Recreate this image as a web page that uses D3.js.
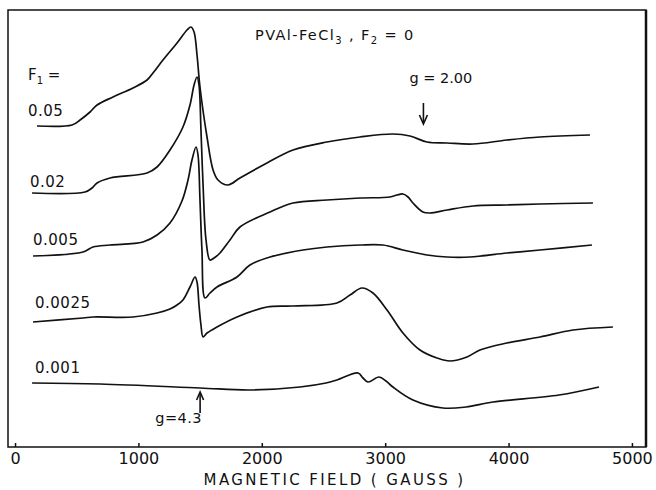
<!DOCTYPE html>
<html>
<head>
<meta charset="utf-8">
<script src="https://cdn.jsdelivr.net/npm/d3@7/dist/d3.min.js"></script>
<style>
body { margin: 0; background: #fff; }
text { font-family: "DejaVu Sans", sans-serif; fill: #111; }
</style>
</head>
<body>
<div id="chart"></div>
<script>
// F1 value of each trace, top to bottom
let f1Labels = ["0.05", "0.02", "0.005", "0.0025", "0.001"];

// [field (gauss), signal (arb. units)]
let trace005 = [[178, 32.1], [462, 32.2], [527, 32.7], [608, 33.5], [665, 34.2], [794, 35.0], [956, 35.9],
    [1070, 36.7], [1118, 37.4], [1199, 38.7], [1313, 40.4], [1394, 41.7], [1426, 42.0], [1451, 41.5],
    [1475, 39.2], [1499, 36.0], [1556, 31.0], [1605, 27.7], [1645, 26.7], [1726, 26.2], [1823, 26.9],
    [2042, 28.4], [2253, 29.7], [2528, 30.5], [2796, 31.0], [3063, 31.3], [3201, 31.1], [3339, 30.5],
    [3501, 30.4], [3712, 30.3], [3987, 30.7], [4255, 31.0], [4660, 31.2]];
let trace002 = [[138, 25.4], [567, 25.5], [624, 25.9], [665, 26.4], [770, 26.9], [1070, 27.4], [1151, 28.0],
    [1256, 29.7], [1361, 32.0], [1418, 34.2], [1451, 36.2], [1475, 37.0], [1491, 36.2], [1507, 31.7],
    [1524, 26.2], [1548, 20.7], [1580, 18.7], [1613, 18.9], [1661, 19.4], [1742, 20.7], [1823, 22.0],
    [2067, 23.5], [2253, 24.4], [2528, 24.7], [2796, 24.9], [3039, 25.0], [3096, 25.2], [3144, 25.3],
    [3185, 25.0], [3225, 24.4], [3306, 23.5], [3363, 23.4], [3501, 23.7], [3712, 24.1], [3987, 24.2],
    [4255, 24.3], [4684, 24.4]];
let trace0005 = [[146, 19.1], [551, 19.5], [632, 20.0], [770, 20.2], [1037, 20.5], [1151, 21.2], [1256, 22.4],
    [1353, 24.6], [1402, 26.7], [1434, 28.7], [1467, 30.0], [1483, 29.2], [1499, 24.7], [1515, 19.7],
    [1540, 14.9], [1580, 15.4], [1637, 16.0], [1799, 17.0], [1904, 18.2], [2067, 19.0], [2334, 19.7],
    [2528, 20.0], [2796, 20.2], [2982, 20.2], [3144, 19.7], [3339, 19.2], [3501, 19.0], [3687, 19.0],
    [3987, 19.4], [4255, 19.7], [4676, 20.2]];
let trace00025 = [[146, 12.5], [551, 12.9], [632, 13.0], [956, 13.0], [1151, 13.4], [1256, 13.8], [1313, 14.2],
    [1361, 14.7], [1418, 16.0], [1459, 17.0], [1475, 16.5], [1491, 14.2], [1507, 12.2], [1524, 11.0],
    [1556, 11.4], [1637, 12.0], [1799, 13.0], [2042, 14.0], [2253, 14.1], [2609, 14.4], [2715, 15.2],
    [2812, 15.9], [2901, 15.4], [3015, 13.7], [3144, 11.4], [3282, 9.7], [3420, 8.9], [3525, 8.6],
    [3663, 9.0], [3768, 9.7], [3987, 10.4], [4255, 11.0], [4522, 11.7], [4846, 12.0]];
let trace0001 = [[138, 6.4], [689, 6.3], [1499, 5.9], [1904, 5.7], [2310, 6.0], [2520, 6.4], [2609, 6.7],
    [2780, 7.4], [2820, 6.9], [2861, 6.5], [2950, 7.0], [3007, 6.6], [3063, 6.0], [3225, 4.7],
    [3468, 3.9], [3655, 4.0], [3874, 4.5], [4409, 5.2], [4733, 6.0]];

let traces = [trace005, trace002, trace0005, trace00025, trace0001];

let fieldTicks = [0, 1000, 2000, 3000, 4000, 5000];

// g-value markers (field in gauss)
let gMarkers = [["g = 2.00", 3310], ["g=4.3", 1500]];

let margin = { top: 10, right: 10, bottom: 43, left: 8 };
let width = 656 - margin.left - margin.right,
    height = 490 - margin.top - margin.bottom;

let svg = d3.select("#chart").append("svg")
    .attr("width", width + margin.left + margin.right)
    .attr("height", height + margin.top + margin.bottom)
    .append("g")
    .attr("transform", "translate(" + margin.left + "," + margin.top + ")");

let x = d3.scaleLinear()
    .domain([-57, 5114])
    .range([0, width]);

let y = d3.scaleLinear()
    .domain([0, 43.7])
    .range([height, 0]);

let xAxis = d3.axisBottom(x)
    .tickValues(fieldTicks)
    .tickFormat(d3.format("d"))
    .tickSizeInner(-4)
    .tickSizeOuter(0)
    .tickPadding(6);

svg.append("g")
    .attr("class", "x-axis")
    .attr("transform", "translate(0," + height + ")")
    .call(xAxis)
    .call(g => g.select(".domain").remove())
    .call(g => g.selectAll("line").attr("stroke", "#111").attr("stroke-width", 1.5))
    .call(g => g.selectAll("text").style("font-size", "16px").attr("fill", "#111"));

// frame
svg.append("rect")
    .attr("width", width)
    .attr("height", height)
    .attr("fill", "none")
    .attr("stroke", "#111")
    .attr("stroke-width", 1.5);
svg.append("line")
    .attr("x1", width).attr("x2", width)
    .attr("y1", 0).attr("y2", height)
    .attr("stroke", "#111")
    .attr("stroke-width", 2.5);

let line = d3.line()
    .x(d => x(d[0]))
    .y(d => y(d[1]))
    .curve(d3.curveCatmullRom.alpha(0.5));

svg.selectAll(".trace")
    .data(traces)
    .enter().append("path")
    .attr("class", "trace")
    .attr("d", line)
    .attr("fill", "none")
    .attr("stroke", "#111")
    .attr("stroke-width", 1.7)
    .attr("stroke-linejoin", "round");

// F1 labels sit above the start of each trace
let labelLift = [10, 6, 11, 14, 10];
let labelX = [20, 22, 25, 27, 27];
svg.selectAll(".f1-label")
    .data(f1Labels)
    .enter().append("text")
    .attr("class", "f1-label")
    .attr("x", (d, i) => labelX[i])
    .attr("y", (d, i) => y(traces[i][0][1]) - labelLift[i])
    .style("font-size", "15px")
    .style("letter-spacing", "0.5px")
    .text(d => d);

let f1 = svg.append("text")
    .attr("x", 20)
    .attr("y", 70)
    .style("font-size", "15px");
f1.append("tspan").text("F");
f1.append("tspan").attr("dy", 4).style("font-size", "10px").text("1");
f1.append("tspan").attr("dy", -4).text(" =");

let title = svg.append("text")
    .attr("x", 247)
    .attr("y", 30)
    .style("font-size", "14.5px")
    .style("letter-spacing", "1.4px");
title.append("tspan").text("PVAl-FeCl");
title.append("tspan").attr("dy", 4).style("font-size", "10px").text("3");
title.append("tspan").attr("dy", -4).text(" , F");
title.append("tspan").attr("dy", 4).style("font-size", "10px").text("2");
title.append("tspan").attr("dy", -4).text(" = 0");

// g markers with arrows
svg.append("text")
    .attr("x", x(gMarkers[0][1]) - 14)
    .attr("y", 73)
    .style("font-size", "14.5px")
    .text(gMarkers[0][0]);
svg.append("line")
    .attr("x1", x(gMarkers[0][1])).attr("x2", x(gMarkers[0][1]))
    .attr("y1", 93).attr("y2", 112)
    .attr("stroke", "#111").attr("stroke-width", 1.6);
svg.append("path")
    .attr("d", "M" + (x(gMarkers[0][1]) - 4) + ",105L" + x(gMarkers[0][1]) + ",114L" + (x(gMarkers[0][1]) + 4) + ",105")
    .attr("fill", "none").attr("stroke", "#111").attr("stroke-width", 1.6);

svg.append("text")
    .attr("x", x(gMarkers[1][1]) + 2)
    .attr("y", 413)
    .attr("text-anchor", "end")
    .style("font-size", "14.5px")
    .style("letter-spacing", "0.5px")
    .text(gMarkers[1][0]);
svg.append("line")
    .attr("x1", x(gMarkers[1][1])).attr("x2", x(gMarkers[1][1]))
    .attr("y1", 383).attr("y2", 403)
    .attr("stroke", "#111").attr("stroke-width", 1.6);
svg.append("path")
    .attr("d", "M" + (x(gMarkers[1][1]) - 3.5) + ",390L" + x(gMarkers[1][1]) + ",382L" + (x(gMarkers[1][1]) + 3.5) + ",390")
    .attr("fill", "none").attr("stroke", "#111").attr("stroke-width", 1.6);

// axis title
svg.append("text")
    .attr("x", x(2590))
    .attr("y", height + 38)
    .attr("text-anchor", "middle")
    .style("font-size", "15px")
    .style("letter-spacing", "2.4px")
    .text("MAGNETIC FIELD ( GAUSS )");
</script>
</body>
</html>
